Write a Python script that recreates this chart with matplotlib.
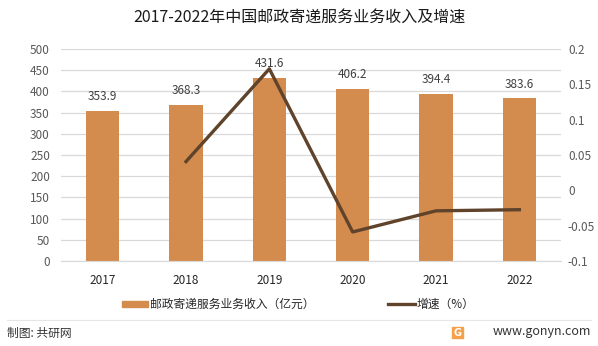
import numpy as np
import matplotlib
matplotlib.use('Agg')
from matplotlib import pyplot as plt
from matplotlib.patches import Rectangle
from matplotlib.lines import Line2D

plt.rcParams['font.family'] = ['Noto Sans CJK SC', 'DejaVu Sans']

years = ['2017', '2018', '2019', '2020', '2021', '2022']
income = [353.9, 368.3, 431.6, 406.2, 394.4, 383.6]
growth_years = ['2018', '2019', '2020', '2021', '2022']
growth = [0.0407, 0.1719, -0.0589, -0.0290, -0.0274]

bar_color = '#D48C4E'
line_color = '#5F432B'
text_color = '#404040'

fig = plt.figure(figsize=(5.98, 3.46), dpi=100)
ax = fig.add_axes([61 / 598, 1 - 261 / 346, 500 / 598, 212 / 346])
ax2 = ax.twinx()

x = np.arange(len(years))
ax.bar(x, income, width=0.4, color=bar_color, zorder=2)
for xi, v in zip(x, income):
    ax.annotate('{:.1f}'.format(v), (xi, v), xytext=(0, 5.5), textcoords='offset points',
                ha='center', va='bottom', fontsize=8.5, color=text_color)

gx = [years.index(y) for y in growth_years]
ax2.plot(gx, growth, color=line_color, lw=2.4, zorder=3)

ax.set_xlim(-0.5, len(years) - 0.5)
ax.set_ylim(0, 500)
ax.set_yticks(np.arange(0, 501, 50))
ax2.set_ylim(-0.1, 0.2)
ax2.set_yticks([-0.1, -0.05, 0, 0.05, 0.1, 0.15, 0.2])
ax2.set_yticklabels(['-0.1', '-0.05', '0', '0.05', '0.1', '0.15', '0.2'])

ax.set_xticks(x)
ax.set_xticklabels(years)
ax.grid(axis='y', color='#D9D9D9', lw=0.9, zorder=0)
ax.set_axisbelow(True)
for a in (ax, ax2):
    for s in a.spines.values():
        s.set_visible(False)
    a.tick_params(length=0, labelsize=8.5, colors='#595959')
ax.spines['bottom'].set_visible(True)
ax.spines['bottom'].set_color('#D9D9D9')
ax.tick_params(axis='y', pad=8)
ax.tick_params(axis='x', pad=9, colors='#262626')
ax2.tick_params(axis='y', pad=5)

fig.text(0.5, 1 - 17 / 346, '2017-2022年中国邮政寄递服务业务收入及增速', ha='center', va='center',
         fontsize=11.5, color='#1a1a1a')

# legend
fig.patches.append(Rectangle((122 / 598, 1 - 307 / 346), 26 / 598, 6 / 346,
                             transform=fig.transFigure, color=bar_color))
fig.text(150 / 598, 1 - 304 / 346, '邮政寄递服务业务收入（亿元）', va='center', fontsize=8.5, color='#262626')
fig.lines.append(Line2D([388 / 598, 415 / 598], [1 - 304 / 346, 1 - 304 / 346],
                        transform=fig.transFigure, color=line_color, lw=2.4))
fig.text(417 / 598, 1 - 304 / 346, '增速（%）', va='center', fontsize=8.5, color='#262626')

# footer
fig.lines.append(Line2D([7 / 598, 591 / 598], [1 - 320 / 346, 1 - 320 / 346],
                        transform=fig.transFigure, color='#E6E6E6', lw=0.8))
fig.text(7 / 598, 1 - 333 / 346, '制图: 共研网', va='center', fontsize=8.5, color='#333333')
fig.patches.append(Rectangle((452 / 598, 1 - 338 / 346), 11 / 598, 11 / 346,
                             transform=fig.transFigure, color='#F5A04A'))
fig.text(457.5 / 598, 1 - 332.5 / 346, 'G', ha='center', va='center', fontsize=7,
         color='white', fontweight='bold', family='DejaVu Sans')
fig.text(591 / 598, 1 - 332 / 346, 'www.gonyn.com', ha='right', va='center', fontsize=9,
         color='#333333')

fig.savefig('out.png', dpi=100)
